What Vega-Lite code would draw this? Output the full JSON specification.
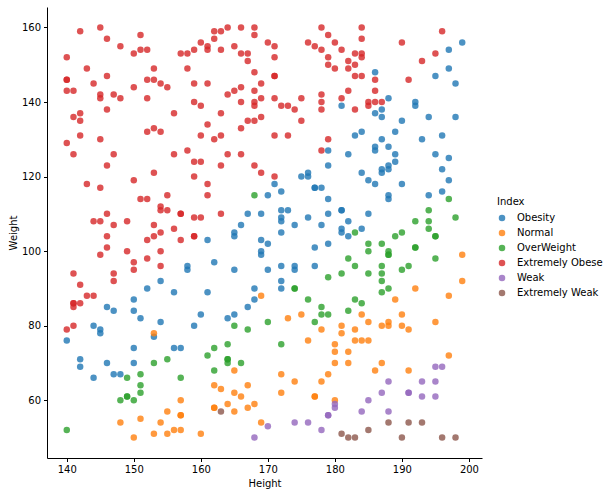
{
"$schema": "https://vega.github.io/schema/vega-lite/v6.json",
"width": 435, "height": 451,
"autosize": "none",
"padding": {"left": 47, "top": 7, "right": 129, "bottom": 38},
"config": {"view": {"stroke": null}, "font": "DejaVu Sans"},
"data": {"values": [
{"Height":186,"Weight":148,"Index":"Obesity"},{"Height":181,"Weight":139,"Index":"Obesity"},{"Height":186,"Weight":137,"Index":"Obesity"},{"Height":183,"Weight":131,"Index":"Obesity"},{"Height":184,"Weight":132,"Index":"Obesity"},{"Height":179,"Weight":127,"Index":"Obesity"},{"Height":182,"Weight":126,"Index":"Obesity"},{"Height":186,"Weight":128,"Index":"Obesity"},{"Height":186,"Weight":127,"Index":"Obesity"},
{"Height":199,"Weight":156,"Index":"Obesity"},{"Height":197,"Weight":154,"Index":"Obesity"},{"Height":197,"Weight":149,"Index":"Obesity"},{"Height":195,"Weight":147,"Index":"Obesity"},{"Height":198,"Weight":145,"Index":"Obesity"},{"Height":188,"Weight":141,"Index":"Obesity"},{"Height":187,"Weight":138,"Index":"Obesity"},{"Height":187,"Weight":136,"Index":"Obesity"},{"Height":192,"Weight":140,"Index":"Obesity"},{"Height":192,"Weight":139,"Index":"Obesity"},{"Height":190,"Weight":135,"Index":"Obesity"},{"Height":194,"Weight":136,"Index":"Obesity"},{"Height":198,"Weight":136,"Index":"Obesity"},{"Height":189,"Weight":132,"Index":"Obesity"},{"Height":187,"Weight":130,"Index":"Obesity"},{"Height":188,"Weight":128,"Index":"Obesity"},{"Height":193,"Weight":130,"Index":"Obesity"},{"Height":196,"Weight":131,"Index":"Obesity"},{"Height":189,"Weight":126,"Index":"Obesity"},{"Height":195,"Weight":126,"Index":"Obesity"},{"Height":197,"Weight":125,"Index":"Obesity"},
{"Height":189,"Weight":124,"Index":"Obesity"},{"Height":188,"Weight":123,"Index":"Obesity"},{"Height":187,"Weight":122,"Index":"Obesity"},{"Height":187,"Weight":121,"Index":"Obesity"},{"Height":188,"Weight":122,"Index":"Obesity"},{"Height":196,"Weight":122,"Index":"Obesity"},{"Height":197,"Weight":119,"Index":"Obesity"},{"Height":190,"Weight":118,"Index":"Obesity"},{"Height":188,"Weight":115,"Index":"Obesity"},{"Height":188,"Weight":114,"Index":"Obesity"},{"Height":194,"Weight":115,"Index":"Obesity"},{"Height":196,"Weight":116,"Index":"Obesity"},
{"Height":176,"Weight":121,"Index":"Obesity"},{"Height":176,"Weight":120,"Index":"Obesity"},{"Height":179,"Weight":123,"Index":"Obesity"},{"Height":175,"Weight":120,"Index":"Obesity"},{"Height":171,"Weight":118,"Index":"Obesity"},{"Height":172,"Weight":116,"Index":"Obesity"},{"Height":177,"Weight":117,"Index":"Obesity"},{"Height":177,"Weight":117,"Index":"Obesity"},{"Height":178,"Weight":117,"Index":"Obesity"},{"Height":184,"Weight":121,"Index":"Obesity"},{"Height":185,"Weight":119,"Index":"Obesity"},{"Height":186,"Weight":118,"Index":"Obesity"},{"Height":170,"Weight":115,"Index":"Obesity"},{"Height":179,"Weight":114,"Index":"Obesity"},{"Height":172,"Weight":111,"Index":"Obesity"},{"Height":173,"Weight":111,"Index":"Obesity"},{"Height":172,"Weight":109,"Index":"Obesity"},{"Height":172,"Weight":108,"Index":"Obesity"},{"Height":176,"Weight":109,"Index":"Obesity"},{"Height":179,"Weight":110,"Index":"Obesity"},{"Height":181,"Weight":111,"Index":"Obesity"},{"Height":181,"Weight":111,"Index":"Obesity"},{"Height":185,"Weight":110,"Index":"Obesity"},{"Height":182,"Weight":108,"Index":"Obesity"},{"Height":174,"Weight":107,"Index":"Obesity"},{"Height":178,"Weight":107,"Index":"Obesity"},{"Height":172,"Weight":105,"Index":"Obesity"},{"Height":181,"Weight":106,"Index":"Obesity"},{"Height":181,"Weight":105,"Index":"Obesity"},{"Height":182,"Weight":104,"Index":"Obesity"},{"Height":184,"Weight":106,"Index":"Obesity"},{"Height":179,"Weight":102,"Index":"Obesity"},{"Height":170,"Weight":102,"Index":"Obesity"},{"Height":177,"Weight":101,"Index":"Obesity"},{"Height":170,"Weight":95,"Index":"Obesity"},{"Height":172,"Weight":96,"Index":"Obesity"},{"Height":174,"Weight":96,"Index":"Obesity"},{"Height":174,"Weight":95,"Index":"Obesity"},{"Height":177,"Weight":96,"Index":"Obesity"},{"Height":172,"Weight":92,"Index":"Obesity"},{"Height":172,"Weight":90,"Index":"Obesity"},
{"Height":167,"Weight":110,"Index":"Obesity"},{"Height":169,"Weight":110,"Index":"Obesity"},{"Height":166,"Weight":107,"Index":"Obesity"},{"Height":165,"Weight":105,"Index":"Obesity"},{"Height":165,"Weight":104,"Index":"Obesity"},{"Height":161,"Weight":103,"Index":"Obesity"},{"Height":169,"Weight":103,"Index":"Obesity"},{"Height":169,"Weight":100,"Index":"Obesity"},{"Height":169,"Weight":99,"Index":"Obesity"},{"Height":158,"Weight":96,"Index":"Obesity"},{"Height":158,"Weight":95,"Index":"Obesity"},{"Height":162,"Weight":97,"Index":"Obesity"},{"Height":165,"Weight":95,"Index":"Obesity"},{"Height":154,"Weight":92,"Index":"Obesity"},{"Height":156,"Weight":89,"Index":"Obesity"},{"Height":161,"Weight":89,"Index":"Obesity"},{"Height":168,"Weight":90,"Index":"Obesity"},{"Height":168,"Weight":87,"Index":"Obesity"},{"Height":167,"Weight":85,"Index":"Obesity"},
{"Height":152,"Weight":90,"Index":"Obesity"},{"Height":150,"Weight":87,"Index":"Obesity"},{"Height":146,"Weight":85,"Index":"Obesity"},{"Height":147,"Weight":84,"Index":"Obesity"},{"Height":150,"Weight":84,"Index":"Obesity"},
{"Height":151,"Weight":82,"Index":"Obesity"},{"Height":144,"Weight":80,"Index":"Obesity"},{"Height":145,"Weight":79,"Index":"Obesity"},{"Height":145,"Weight":78,"Index":"Obesity"},{"Height":140,"Weight":76,"Index":"Obesity"},{"Height":150,"Weight":74,"Index":"Obesity"},{"Height":142,"Weight":71,"Index":"Obesity"},{"Height":142,"Weight":69,"Index":"Obesity"},{"Height":146,"Weight":70,"Index":"Obesity"},{"Height":150,"Weight":70,"Index":"Obesity"},{"Height":147,"Weight":67,"Index":"Obesity"},{"Height":148,"Weight":67,"Index":"Obesity"},{"Height":144,"Weight":66,"Index":"Obesity"},{"Height":153,"Weight":77,"Index":"Obesity"},
{"Height":154,"Weight":81,"Index":"Obesity"},{"Height":160,"Weight":83,"Index":"Obesity"},{"Height":159,"Weight":80,"Index":"Obesity"},{"Height":164,"Weight":82,"Index":"Obesity"},{"Height":165,"Weight":83,"Index":"Obesity"},{"Height":156,"Weight":74,"Index":"Obesity"},{"Height":157,"Weight":74,"Index":"Obesity"},
{"Height":169,"Weight":88,"Index":"Normal"},{"Height":199,"Weight":99,"Index":"Normal"},{"Height":199,"Weight":92,"Index":"Normal"},{"Height":192,"Weight":90,"Index":"Normal"},{"Height":197,"Weight":88,"Index":"Normal"},{"Height":189,"Weight":87,"Index":"Normal"},
{"Height":153,"Weight":78,"Index":"Normal"},{"Height":148,"Weight":54,"Index":"Normal"},{"Height":151,"Weight":55,"Index":"Normal"},{"Height":150,"Weight":50,"Index":"Normal"},{"Height":153,"Weight":51,"Index":"Normal"},
{"Height":165,"Weight":68,"Index":"Normal"},{"Height":162,"Weight":64,"Index":"Normal"},{"Height":163,"Weight":63,"Index":"Normal"},{"Height":165,"Weight":62,"Index":"Normal"},{"Height":166,"Weight":61,"Index":"Normal"},{"Height":167,"Weight":64,"Index":"Normal"},{"Height":157,"Weight":60,"Index":"Normal"},{"Height":155,"Weight":57,"Index":"Normal"},{"Height":157,"Weight":56,"Index":"Normal"},{"Height":157,"Weight":56,"Index":"Normal"},{"Height":154,"Weight":54,"Index":"Normal"},{"Height":162,"Weight":58,"Index":"Normal"},{"Height":162,"Weight":58,"Index":"Normal"},{"Height":164,"Weight":59,"Index":"Normal"},{"Height":165,"Weight":57,"Index":"Normal"},{"Height":167,"Weight":58,"Index":"Normal"},{"Height":168,"Weight":59,"Index":"Normal"},{"Height":169,"Weight":54,"Index":"Normal"},{"Height":156,"Weight":52,"Index":"Normal"},{"Height":157,"Weight":52,"Index":"Normal"},{"Height":155,"Weight":51,"Index":"Normal"},{"Height":160,"Weight":51,"Index":"Normal"},
{"Height":173,"Weight":82,"Index":"Normal"},{"Height":175,"Weight":83,"Index":"Normal"},{"Height":176,"Weight":76,"Index":"Normal"},{"Height":178,"Weight":79,"Index":"Normal"},{"Height":181,"Weight":80,"Index":"Normal"},{"Height":181,"Weight":78,"Index":"Normal"},{"Height":184,"Weight":83,"Index":"Normal"},{"Height":185,"Weight":81,"Index":"Normal"},{"Height":183,"Weight":79,"Index":"Normal"},{"Height":183,"Weight":76,"Index":"Normal"},{"Height":184,"Weight":76,"Index":"Normal"},{"Height":185,"Weight":76,"Index":"Normal"},{"Height":180,"Weight":75,"Index":"Normal"},{"Height":180,"Weight":73,"Index":"Normal"},{"Height":180,"Weight":70,"Index":"Normal"},{"Height":182,"Weight":73,"Index":"Normal"},{"Height":182,"Weight":70,"Index":"Normal"},{"Height":186,"Weight":68,"Index":"Normal"},{"Height":172,"Weight":67,"Index":"Normal"},{"Height":172,"Weight":62,"Index":"Normal"},{"Height":174,"Weight":65,"Index":"Normal"},{"Height":178,"Weight":65,"Index":"Normal"},{"Height":179,"Weight":67,"Index":"Normal"},{"Height":177,"Weight":61,"Index":"Normal"},{"Height":177,"Weight":61,"Index":"Normal"},{"Height":180,"Weight":60,"Index":"Normal"},
{"Height":190,"Weight":83,"Index":"Normal"},{"Height":187,"Weight":80,"Index":"Normal"},{"Height":188,"Weight":81,"Index":"Normal"},{"Height":188,"Weight":80,"Index":"Normal"},{"Height":190,"Weight":80,"Index":"Normal"},{"Height":191,"Weight":79,"Index":"Normal"},{"Height":195,"Weight":81,"Index":"Normal"},{"Height":197,"Weight":72,"Index":"Normal"},{"Height":187,"Weight":70,"Index":"Normal"},{"Height":191,"Weight":68,"Index":"Normal"},
{"Height":168,"Weight":115,"Index":"OverWeight"},
{"Height":183,"Weight":105,"Index":"OverWeight"},{"Height":185,"Weight":102,"Index":"OverWeight"},{"Height":185,"Weight":100,"Index":"OverWeight"},{"Height":182,"Weight":98,"Index":"OverWeight"},{"Height":183,"Weight":96,"Index":"OverWeight"},{"Height":181,"Weight":94,"Index":"OverWeight"},{"Height":185,"Weight":94,"Index":"OverWeight"},{"Height":179,"Weight":93,"Index":"OverWeight"},{"Height":174,"Weight":90,"Index":"OverWeight"},{"Height":174,"Weight":90,"Index":"OverWeight"},{"Height":176,"Weight":87,"Index":"OverWeight"},{"Height":178,"Weight":85,"Index":"OverWeight"},{"Height":182,"Weight":84,"Index":"OverWeight"},{"Height":183,"Weight":87,"Index":"OverWeight"},{"Height":184,"Weight":86,"Index":"OverWeight"},
{"Height":197,"Weight":114,"Index":"OverWeight"},{"Height":194,"Weight":111,"Index":"OverWeight"},{"Height":192,"Weight":108,"Index":"OverWeight"},{"Height":194,"Weight":108,"Index":"OverWeight"},{"Height":194,"Weight":106,"Index":"OverWeight"},{"Height":198,"Weight":109,"Index":"OverWeight"},{"Height":190,"Weight":105,"Index":"OverWeight"},{"Height":189,"Weight":104,"Index":"OverWeight"},{"Height":195,"Weight":104,"Index":"OverWeight"},{"Height":195,"Weight":104,"Index":"OverWeight"},{"Height":187,"Weight":102,"Index":"OverWeight"},{"Height":188,"Weight":100,"Index":"OverWeight"},{"Height":188,"Weight":99,"Index":"OverWeight"},{"Height":188,"Weight":99,"Index":"OverWeight"},{"Height":192,"Weight":101,"Index":"OverWeight"},{"Height":192,"Weight":101,"Index":"OverWeight"},{"Height":195,"Weight":98,"Index":"OverWeight"},{"Height":187,"Weight":96,"Index":"OverWeight"},{"Height":187,"Weight":94,"Index":"OverWeight"},{"Height":190,"Weight":95,"Index":"OverWeight"},{"Height":191,"Weight":96,"Index":"OverWeight"},{"Height":187,"Weight":92,"Index":"OverWeight"},{"Height":188,"Weight":90,"Index":"OverWeight"},{"Height":187,"Weight":89,"Index":"OverWeight"},
{"Height":153,"Weight":70,"Index":"OverWeight"},{"Height":149,"Weight":66,"Index":"OverWeight"},{"Height":151,"Weight":67,"Index":"OverWeight"},{"Height":151,"Weight":64,"Index":"OverWeight"},{"Height":151,"Weight":62,"Index":"OverWeight"},{"Height":149,"Weight":61,"Index":"OverWeight"},{"Height":149,"Weight":61,"Index":"OverWeight"},{"Height":148,"Weight":60,"Index":"OverWeight"},{"Height":150,"Weight":60,"Index":"OverWeight"},{"Height":140,"Weight":52,"Index":"OverWeight"},
{"Height":165,"Weight":80,"Index":"OverWeight"},{"Height":167,"Weight":79,"Index":"OverWeight"},{"Height":170,"Weight":81,"Index":"OverWeight"},{"Height":155,"Weight":71,"Index":"OverWeight"},{"Height":157,"Weight":66,"Index":"OverWeight"},{"Height":161,"Weight":72,"Index":"OverWeight"},{"Height":162,"Weight":74,"Index":"OverWeight"},{"Height":164,"Weight":75,"Index":"OverWeight"},{"Height":164,"Weight":71,"Index":"OverWeight"},{"Height":164,"Weight":71,"Index":"OverWeight"},{"Height":164,"Weight":70,"Index":"OverWeight"},{"Height":166,"Weight":70,"Index":"OverWeight"},{"Height":162,"Weight":68,"Index":"OverWeight"},
{"Height":178,"Weight":83,"Index":"OverWeight"},{"Height":179,"Weight":83,"Index":"OverWeight"},{"Height":177,"Weight":81,"Index":"OverWeight"},{"Height":172,"Weight":75,"Index":"OverWeight"},
{"Height":142,"Weight":159,"Index":"Extremely Obese"},{"Height":145,"Weight":160,"Index":"Extremely Obese"},{"Height":146,"Weight":157,"Index":"Extremely Obese"},{"Height":140,"Weight":152,"Index":"Extremely Obese"},{"Height":148,"Weight":155,"Index":"Extremely Obese"},{"Height":150,"Weight":153,"Index":"Extremely Obese"},{"Height":151,"Weight":158,"Index":"Extremely Obese"},{"Height":151,"Weight":154,"Index":"Extremely Obese"},{"Height":152,"Weight":154,"Index":"Extremely Obese"},{"Height":143,"Weight":149,"Index":"Extremely Obese"},{"Height":146,"Weight":147,"Index":"Extremely Obese"},{"Height":153,"Weight":149,"Index":"Extremely Obese"},{"Height":140,"Weight":146,"Index":"Extremely Obese"},{"Height":140,"Weight":146,"Index":"Extremely Obese"},{"Height":152,"Weight":146,"Index":"Extremely Obese"},{"Height":153,"Weight":146,"Index":"Extremely Obese"},{"Height":144,"Weight":145,"Index":"Extremely Obese"},{"Height":140,"Weight":143,"Index":"Extremely Obese"},{"Height":141,"Weight":143,"Index":"Extremely Obese"},{"Height":150,"Weight":144,"Index":"Extremely Obese"},{"Height":145,"Weight":142,"Index":"Extremely Obese"},{"Height":145,"Weight":141,"Index":"Extremely Obese"},{"Height":147,"Weight":142,"Index":"Extremely Obese"},{"Height":148,"Weight":141,"Index":"Extremely Obese"},{"Height":152,"Weight":141,"Index":"Extremely Obese"},{"Height":146,"Weight":138,"Index":"Extremely Obese"},{"Height":141,"Weight":136,"Index":"Extremely Obese"},{"Height":142,"Weight":137,"Index":"Extremely Obese"},{"Height":142,"Weight":135,"Index":"Extremely Obese"},{"Height":142,"Weight":131,"Index":"Extremely Obese"},{"Height":140,"Weight":129,"Index":"Extremely Obese"},{"Height":145,"Weight":130,"Index":"Extremely Obese"},{"Height":152,"Weight":132,"Index":"Extremely Obese"},{"Height":153,"Weight":133,"Index":"Extremely Obese"},{"Height":141,"Weight":126,"Index":"Extremely Obese"},{"Height":147,"Weight":126,"Index":"Extremely Obese"},
{"Height":162,"Weight":159,"Index":"Extremely Obese"},{"Height":163,"Weight":159,"Index":"Extremely Obese"},{"Height":164,"Weight":160,"Index":"Extremely Obese"},{"Height":166,"Weight":160,"Index":"Extremely Obese"},{"Height":168,"Weight":160,"Index":"Extremely Obese"},{"Height":168,"Weight":158,"Index":"Extremely Obese"},{"Height":162,"Weight":157,"Index":"Extremely Obese"},{"Height":160,"Weight":156,"Index":"Extremely Obese"},{"Height":161,"Weight":155,"Index":"Extremely Obese"},{"Height":161,"Weight":154,"Index":"Extremely Obese"},{"Height":163,"Weight":154,"Index":"Extremely Obese"},{"Height":165,"Weight":155,"Index":"Extremely Obese"},{"Height":159,"Weight":154,"Index":"Extremely Obese"},{"Height":157,"Weight":153,"Index":"Extremely Obese"},{"Height":158,"Weight":153,"Index":"Extremely Obese"},{"Height":166,"Weight":153,"Index":"Extremely Obese"},{"Height":167,"Weight":153,"Index":"Extremely Obese"},{"Height":167,"Weight":151,"Index":"Extremely Obese"},{"Height":158,"Weight":149,"Index":"Extremely Obese"},{"Height":168,"Weight":148,"Index":"Extremely Obese"},{"Height":154,"Weight":145,"Index":"Extremely Obese"},{"Height":155,"Weight":144,"Index":"Extremely Obese"},{"Height":159,"Weight":145,"Index":"Extremely Obese"},{"Height":161,"Weight":145,"Index":"Extremely Obese"},{"Height":169,"Weight":145,"Index":"Extremely Obese"},{"Height":164,"Weight":142,"Index":"Extremely Obese"},{"Height":165,"Weight":143,"Index":"Extremely Obese"},{"Height":166,"Weight":144,"Index":"Extremely Obese"},{"Height":168,"Weight":143,"Index":"Extremely Obese"},{"Height":169,"Weight":141,"Index":"Extremely Obese"},{"Height":166,"Weight":140,"Index":"Extremely Obese"},{"Height":168,"Weight":140,"Index":"Extremely Obese"},{"Height":168,"Weight":139,"Index":"Extremely Obese"},{"Height":159,"Weight":140,"Index":"Extremely Obese"},{"Height":160,"Weight":139,"Index":"Extremely Obese"},{"Height":156,"Weight":137,"Index":"Extremely Obese"},{"Height":163,"Weight":137,"Index":"Extremely Obese"},{"Height":161,"Weight":134,"Index":"Extremely Obese"},{"Height":167,"Weight":135,"Index":"Extremely Obese"},{"Height":168,"Weight":135,"Index":"Extremely Obese"},{"Height":169,"Weight":136,"Index":"Extremely Obese"},{"Height":166,"Weight":133,"Index":"Extremely Obese"},{"Height":154,"Weight":132,"Index":"Extremely Obese"},{"Height":160,"Weight":131,"Index":"Extremely Obese"},{"Height":163,"Weight":131,"Index":"Extremely Obese"},{"Height":162,"Weight":130,"Index":"Extremely Obese"},{"Height":156,"Weight":126,"Index":"Extremely Obese"},{"Height":158,"Weight":127,"Index":"Extremely Obese"},{"Height":164,"Weight":126,"Index":"Extremely Obese"},{"Height":166,"Weight":126,"Index":"Extremely Obese"},
{"Height":178,"Weight":160,"Index":"Extremely Obese"},{"Height":179,"Weight":158,"Index":"Extremely Obese"},{"Height":184,"Weight":160,"Index":"Extremely Obese"},{"Height":184,"Weight":157,"Index":"Extremely Obese"},{"Height":170,"Weight":156,"Index":"Extremely Obese"},{"Height":171,"Weight":155,"Index":"Extremely Obese"},{"Height":176,"Weight":156,"Index":"Extremely Obese"},{"Height":177,"Weight":155,"Index":"Extremely Obese"},{"Height":178,"Weight":154,"Index":"Extremely Obese"},{"Height":180,"Weight":156,"Index":"Extremely Obese"},{"Height":181,"Weight":154,"Index":"Extremely Obese"},{"Height":171,"Weight":152,"Index":"Extremely Obese"},{"Height":179,"Weight":152,"Index":"Extremely Obese"},{"Height":179,"Weight":150,"Index":"Extremely Obese"},{"Height":180,"Weight":149,"Index":"Extremely Obese"},{"Height":182,"Weight":151,"Index":"Extremely Obese"},{"Height":182,"Weight":149,"Index":"Extremely Obese"},{"Height":183,"Weight":153,"Index":"Extremely Obese"},{"Height":184,"Weight":153,"Index":"Extremely Obese"},{"Height":184,"Weight":152,"Index":"Extremely Obese"},{"Height":183,"Weight":150,"Index":"Extremely Obese"},{"Height":183,"Weight":147,"Index":"Extremely Obese"},{"Height":184,"Weight":147,"Index":"Extremely Obese"},{"Height":171,"Weight":147,"Index":"Extremely Obese"},{"Height":171,"Weight":147,"Index":"Extremely Obese"},{"Height":186,"Weight":146,"Index":"Extremely Obese"},{"Height":186,"Weight":143,"Index":"Extremely Obese"},{"Height":171,"Weight":141,"Index":"Extremely Obese"},{"Height":172,"Weight":139,"Index":"Extremely Obese"},{"Height":173,"Weight":139,"Index":"Extremely Obese"},{"Height":174,"Weight":138,"Index":"Extremely Obese"},{"Height":175,"Weight":141,"Index":"Extremely Obese"},{"Height":178,"Weight":142,"Index":"Extremely Obese"},{"Height":178,"Weight":140,"Index":"Extremely Obese"},{"Height":178,"Weight":138,"Index":"Extremely Obese"},{"Height":181,"Weight":141,"Index":"Extremely Obese"},{"Height":182,"Weight":143,"Index":"Extremely Obese"},{"Height":183,"Weight":138,"Index":"Extremely Obese"},{"Height":185,"Weight":140,"Index":"Extremely Obese"},{"Height":185,"Weight":139,"Index":"Extremely Obese"},{"Height":186,"Weight":140,"Index":"Extremely Obese"},{"Height":175,"Weight":135,"Index":"Extremely Obese"},{"Height":171,"Weight":131,"Index":"Extremely Obese"},{"Height":173,"Weight":131,"Index":"Extremely Obese"},{"Height":179,"Weight":130,"Index":"Extremely Obese"},{"Height":178,"Weight":127,"Index":"Extremely Obese"},
{"Height":196,"Weight":159,"Index":"Extremely Obese"},{"Height":190,"Weight":156,"Index":"Extremely Obese"},{"Height":195,"Weight":153,"Index":"Extremely Obese"},{"Height":193,"Weight":151,"Index":"Extremely Obese"},{"Height":191,"Weight":146,"Index":"Extremely Obese"},{"Height":187,"Weight":140,"Index":"Extremely Obese"},
{"Height":146,"Weight":123,"Index":"Extremely Obese"},{"Height":153,"Weight":121,"Index":"Extremely Obese"},{"Height":143,"Weight":118,"Index":"Extremely Obese"},{"Height":145,"Weight":117,"Index":"Extremely Obese"},{"Height":150,"Weight":119,"Index":"Extremely Obese"},{"Height":151,"Weight":114,"Index":"Extremely Obese"},{"Height":152,"Weight":114,"Index":"Extremely Obese"},{"Height":146,"Weight":110,"Index":"Extremely Obese"},{"Height":144,"Weight":108,"Index":"Extremely Obese"},{"Height":145,"Weight":108,"Index":"Extremely Obese"},{"Height":147,"Weight":107,"Index":"Extremely Obese"},{"Height":149,"Weight":108,"Index":"Extremely Obese"},{"Height":153,"Weight":107,"Index":"Extremely Obese"},{"Height":146,"Weight":104,"Index":"Extremely Obese"},{"Height":152,"Weight":103,"Index":"Extremely Obese"},{"Height":153,"Weight":104,"Index":"Extremely Obese"},{"Height":146,"Weight":101,"Index":"Extremely Obese"},{"Height":145,"Weight":99,"Index":"Extremely Obese"},{"Height":149,"Weight":100,"Index":"Extremely Obese"},{"Height":150,"Weight":97,"Index":"Extremely Obese"},{"Height":150,"Weight":95,"Index":"Extremely Obese"},{"Height":152,"Weight":98,"Index":"Extremely Obese"},{"Height":141,"Weight":94,"Index":"Extremely Obese"},{"Height":147,"Weight":94,"Index":"Extremely Obese"},{"Height":142,"Weight":91,"Index":"Extremely Obese"},{"Height":147,"Weight":92,"Index":"Extremely Obese"},{"Height":143,"Weight":88,"Index":"Extremely Obese"},{"Height":144,"Weight":88,"Index":"Extremely Obese"},{"Height":141,"Weight":86,"Index":"Extremely Obese"},{"Height":142,"Weight":86,"Index":"Extremely Obese"},{"Height":141,"Weight":86,"Index":"Extremely Obese"},{"Height":141,"Weight":85,"Index":"Extremely Obese"},{"Height":140,"Weight":79,"Index":"Extremely Obese"},{"Height":141,"Weight":80,"Index":"Extremely Obese"},
{"Height":159,"Weight":124,"Index":"Extremely Obese"},{"Height":160,"Weight":124,"Index":"Extremely Obese"},{"Height":163,"Weight":123,"Index":"Extremely Obese"},{"Height":168,"Weight":123,"Index":"Extremely Obese"},{"Height":169,"Weight":121,"Index":"Extremely Obese"},{"Height":159,"Weight":120,"Index":"Extremely Obese"},{"Height":161,"Weight":118,"Index":"Extremely Obese"},{"Height":155,"Weight":115,"Index":"Extremely Obese"},{"Height":161,"Weight":115,"Index":"Extremely Obese"},{"Height":154,"Weight":112,"Index":"Extremely Obese"},{"Height":154,"Weight":111,"Index":"Extremely Obese"},{"Height":155,"Weight":111,"Index":"Extremely Obese"},{"Height":157,"Weight":110,"Index":"Extremely Obese"},{"Height":157,"Weight":110,"Index":"Extremely Obese"},{"Height":159,"Weight":109,"Index":"Extremely Obese"},{"Height":160,"Weight":109,"Index":"Extremely Obese"},{"Height":163,"Weight":110,"Index":"Extremely Obese"},{"Height":156,"Weight":106,"Index":"Extremely Obese"},{"Height":154,"Weight":105,"Index":"Extremely Obese"},{"Height":157,"Weight":103,"Index":"Extremely Obese"},{"Height":159,"Weight":104,"Index":"Extremely Obese"},{"Height":159,"Weight":104,"Index":"Extremely Obese"},{"Height":154,"Weight":100,"Index":"Extremely Obese"},{"Height":154,"Weight":96,"Index":"Extremely Obese"},{"Height":171,"Weight":120,"Index":"Extremely Obese"},
{"Height":168,"Weight":50,"Index":"Weak"},{"Height":170,"Weight":53,"Index":"Weak"},{"Height":180,"Weight":59,"Index":"Weak"},{"Height":180,"Weight":58,"Index":"Weak"},{"Height":179,"Weight":56,"Index":"Weak"},{"Height":179,"Weight":56,"Index":"Weak"},{"Height":184,"Weight":57,"Index":"Weak"},{"Height":185,"Weight":60,"Index":"Weak"},{"Height":174,"Weight":54,"Index":"Weak"},{"Height":176,"Weight":54,"Index":"Weak"},{"Height":178,"Weight":52,"Index":"Weak"},{"Height":195,"Weight":69,"Index":"Weak"},{"Height":196,"Weight":69,"Index":"Weak"},{"Height":188,"Weight":65,"Index":"Weak"},{"Height":193,"Weight":65,"Index":"Weak"},{"Height":195,"Weight":65,"Index":"Weak"},{"Height":187,"Weight":62,"Index":"Weak"},{"Height":191,"Weight":62,"Index":"Weak"},{"Height":191,"Weight":62,"Index":"Weak"},{"Height":193,"Weight":61,"Index":"Weak"},{"Height":195,"Weight":61,"Index":"Weak"},{"Height":188,"Weight":57,"Index":"Weak"},
{"Height":163,"Weight":57,"Index":"Extremely Weak"},{"Height":181,"Weight":51,"Index":"Extremely Weak"},{"Height":182,"Weight":50,"Index":"Extremely Weak"},{"Height":183,"Weight":50,"Index":"Extremely Weak"},{"Height":185,"Weight":52,"Index":"Extremely Weak"},{"Height":188,"Weight":54,"Index":"Extremely Weak"},{"Height":191,"Weight":54,"Index":"Extremely Weak"},{"Height":193,"Weight":54,"Index":"Extremely Weak"},{"Height":190,"Weight":50,"Index":"Extremely Weak"},{"Height":196,"Weight":50,"Index":"Extremely Weak"},{"Height":198,"Weight":50,"Index":"Extremely Weak"}
]},
"mark": {"type": "circle", "size": 42, "opacity": 0.8},
"encoding": {
"x": {"field": "Height", "type": "quantitative",
 "scale": {"domain": [137.05, 201.95], "nice": false, "zero": false},
 "axis": {"values": [140,150,160,170,180,190,200], "grid": false, "tickSize": 3.5, "tickColor": "#000", "domainColor": "#000", "labelColor": "#000", "labelFontSize": 10, "titleFontSize": 10, "titleFontWeight": "normal", "titleColor": "#000", "labelPadding": 3, "titlePadding": 4, "labelFont": "DejaVu Sans", "titleFont": "DejaVu Sans"}},
"y": {"field": "Weight", "type": "quantitative",
 "scale": {"domain": [44.5, 165.5], "nice": false, "zero": false},
 "axis": {"values": [60,80,100,120,140,160], "grid": false, "tickSize": 3.5, "tickColor": "#000", "domainColor": "#000", "labelColor": "#000", "labelFontSize": 10, "titleFontSize": 10, "titleFontWeight": "normal", "titleColor": "#000", "labelPadding": 3, "titlePadding": 3, "labelFont": "DejaVu Sans", "titleFont": "DejaVu Sans"}},
"color": {"field": "Index", "type": "nominal",
 "scale": {"domain": ["Obesity","Normal","OverWeight","Extremely Obese","Weak","Extremely Weak"], "range": ["#1f77b4","#ff7f0e","#2ca02c","#d62728","#9467bd","#8c564b"]},
 "legend": {"orient": "none", "legendX": 450, "legendY": 190, "title": "Index", "titleFontWeight": "normal", "titleFontSize": 10, "titleColor": "#000", "labelFontSize": 10, "labelColor": "#000", "symbolType": "circle", "symbolSize": 42, "symbolOpacity": 0.8, "symbolStrokeWidth": 0, "rowPadding": 5, "labelOffset": 10, "titlePadding": 6, "titleFont": "DejaVu Sans", "labelFont": "DejaVu Sans"}}
}
}
